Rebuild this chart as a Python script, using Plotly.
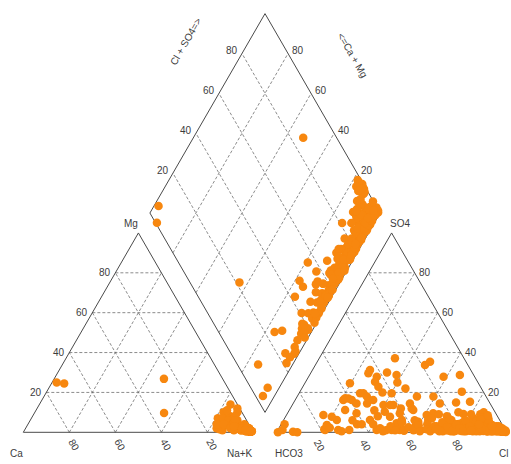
import numpy as np
import plotly.graph_objects as go

# Major-ion composition of each sample, in percent of meq/L.
# Cations: Ca, Mg (Na+K is the remainder).  Anions: SO4, Cl (HCO3 is the remainder).
ca = [
    73, 70, 25.5, 34, 3, 3, 10,
    2, 4, 9, 1, 2, 8, 3, 1.5, 6, 2, 1, 10, 2.5, 5, 1, 3, 12, 4, 2, 6,
    1.5, 3, 2, 4, 1, 5, 2, 3, 8, 2, 4, 1, 3, 6, 2, 1.5, 3, 7, 2, 4,
    1, 5, 2, 3, 6, 2, 1, 4, 3, 2, 5, 1.5, 2, 4, 1, 3, 2, 5, 2, 3, 2, 4,
    1, 2, 3, 2, 6, 1,
    1, 2, 0.5, 3, 1.5, 4, 2, 6, 1, 3, 2, 8, 1.5, 5, 2, 3, 1, 4, 2, 6,
    1, 3, 2, 9, 1, 4, 2, 3, 1, 5, 2, 7, 12, 3, 15, 1, 6, 10, 2, 13,
    4, 1, 7, 2, 1, 3, 5, 1, 2, 1.5, 3, 2, 8, 1, 2, 4, 1, 3, 1.5, 2,
    2, 1, 4, 1, 2, 1, 5, 1.5, 3, 1, 2, 4, 1, 2.5, 1, 6, 1, 2, 1, 3,
    1, 2, 5, 1, 2, 3, 1, 2, 1, 4, 2, 1, 3, 2, 1, 5, 8, 10, 14, 6,
    1, 2, 1, 3, 1, 2, 1, 4, 1, 2,
    1, 3, 1, 2, 1, 5, 1, 2, 1, 3,
    2, 1, 4, 1, 2, 1, 3, 1, 2, 1,
    2, 4, 1, 2, 1, 3, 1, 2, 1, 3,
    1, 12, 2, 0.5, 1, 0.5, 14, 1, 3, 1,
    9, 5, 8, 11, 7, 4, 6, 9, 5, 7,
]
mg = [
    25, 24.5, 26.8, 9.7, 2, 2, 5,
    1, 2, 7, 1, 1.5, 5, 2, 1, 3, 2, 1, 6, 1.5, 3, 0.5, 2, 7, 3, 1, 4,
    1, 2, 1, 2, 1, 3, 1.5, 1, 5, 2, 2, 0.5, 2, 4, 1, 1, 1.5, 4, 1, 3,
    1, 2, 1, 2, 3, 1, 1, 2, 2, 1, 3, 1, 1, 3, 1, 2, 1, 2, 1, 1, 1, 2,
    1, 1, 2, 1, 3, 1,
    0.5, 1, 0.5, 2, 1, 2, 0.5, 3, 1, 1, 2, 4, 1, 2, 1, 3, 0.5, 1, 1, 4,
    1, 1.5, 1, 5, 1, 2, 1, 2, 0.5, 3, 1, 2, 3, 14, 2, 12, 8, 5, 10, 1,
    6, 1, 6, 4, 2, 1, 5, 1, 3, 0.5, 2, 3, 1, 1, 2, 1, 1, 1, 1, 1,
    1, 0.5, 2, 1, 1.5, 0.5, 1, 1, 0.5, 2, 1, 3, 1, 1, 0.5, 2, 1, 2, 1, 2,
    0.5, 1, 1, 1, 0.5, 2, 0.5, 1, 0.5, 2, 1, 1, 1, 2, 0.5, 2, 10, 7, 1.5, 11,
    0.5, 1, 1, 1, 0.5, 1, 1, 2, 0.5, 1,
    1, 1, 0.5, 2, 1, 2, 0.5, 1, 1, 1,
    1, 0.5, 2, 1, 0.5, 1, 2, 0.5, 1, 1,
    1, 2, 0.5, 1, 1, 1, 0.5, 2, 1, 0.5,
    0.5, 3, 1, 0.5, 0.5, 0.5, 4, 0.5, 1, 0.5,
    3, 7, 6, 4, 4, 8, 5, 2, 6, 3,
]
so4 = [
    4, 0, 15, 1.5, 1.2, 0.3, 0,
    1.2, 3.7, 2.3, 1.2, 6.2, 7.8, 16.2, 17, 16.2, 1.2, 9.5, 14.5, 19.6, 19.6, 17.9, 29.6, 31.2, 27.9, 25.4, 22.9,
    14.5, 16.2, 1.2, 6.2, 13.7, 10.3, 7.8, 19.6, 13.7, 37.1, 28.7, 1.2, 4.5, 1.2, 1.2, 14.5, 12, 11.2, 2.8, 1.2,
    33.8, 35.4, 17.9, 9.5, 14.5, 27.9, 5.3, 1.2, 28.7, 20.4, 15.3, 9.2, 9.5, 6.2, 13.7, 8.7, 6.2, 5.3, 8.7, 11.2, 24.6, 17.1,
    0.5, 4, 4, 2, 3, 1,
    0.5, 1, 0.3, 2, 1.5, 3, 0.8, 2.5, 4, 1, 5, 0.5, 6, 2, 8, 3, 9, 1, 4, 7,
    2, 5, 1, 3, 0.5, 2, 4, 1, 6, 2, 1, 3, 0.5, 1, 0.3, 2, 1, 0.5, 1.5, 3,
    0.5, 2, 1, 4, 0.5, 7, 1, 2, 4, 0.5, 10, 1.5, 6, 0.5, 3, 1.5, 5, 0.5, 3.5, 1.5,
    0.5, 0.2, 1, 0.3, 0.8, 1.8, 0.4, 2.2, 0.6, 1.2, 3.5, 0.4, 2.6, 5.5, 0.7, 3.2, 8.5, 1, 5, 0.5,
    7.5, 2.5, 0.8, 4.5, 1.2, 3.8, 0.6, 2.8, 1, 4.2, 0.5, 2, 1, 4.5, 0.5, 2, 0.3, 1, 0.6, 1.5,
    2, 0.5, 3, 1, 5, 0.8, 2.5, 6, 1, 3.5,
    0.5, 4, 1.5, 7, 0.5, 3, 9, 1.5, 5, 0.5,
    8, 2.5, 6.5, 1, 4, 10, 2, 6, 0.5, 3,
    9, 1, 5.5, 2, 6.5, 1, 3, 0.5, 2, 0.3,
    12, 8, 22, 18, 25, 4, 11, 20, 30, 6,
    1, 0.5, 2, 1, 0.5, 3, 1, 2, 4, 1,
]
cl = [
    1.5, 0.6, 70.5, 20, 2, 7, 9,
    20.5, 20, 22, 26.2, 23.1, 20.1, 20.9, 22.7, 24.6, 31, 30, 27.5, 26.5, 27.9, 30.3, 25.1, 25, 29.6, 30.1, 32.8,
    32.1, 33.9, 42.9, 37.5, 39.6, 41.9, 45.4, 40.2, 43.9, 32.9, 37.8, 49.4, 49.9, 53, 54.5, 50.7, 52.7, 53.8, 58.8, 61.7,
    47.6, 49, 59.2, 63.3, 63.7, 58.6, 71.2, 75.5, 65.3, 70.3, 76.4, 76.6, 48.8, 51.3, 42.5, 60.9, 62.8, 58.9, 16, 24.2, 19.6, 21.3,
    28, 33, 35, 66, 68, 47,
    98.5, 97, 99, 96, 95, 94, 93, 92, 91, 90, 89, 88, 87, 86, 86, 85, 84, 84, 83, 82,
    81, 80, 79, 78, 77, 76, 75, 74, 73, 72, 71, 70, 96.5, 97.5, 98, 97, 98, 99, 96, 95,
    94, 93, 92, 90.5, 91, 88.5, 89, 88, 87, 86.5, 85, 83, 82.5, 82, 80.5, 79.5, 78.5, 76.5, 74, 72.5,
    99.3, 99.5, 98.8, 97.8, 96.8, 95.7, 95.5, 94.5, 93.8, 92.5, 92, 91.5, 90, 89.5, 89.5, 88, 87.5, 87, 86, 85,
    85, 84, 83.5, 82, 81.5, 81, 80, 79, 78, 77, 75.5, 74.5, 73.5, 71.5, 70.5, 69, 98.2, 97.2, 96.2, 94.8,
    44, 46, 48, 51, 52, 55, 56, 57, 59, 60,
    62, 63.5, 64.5, 64, 66.5, 67, 66, 68.5, 69.5, 72,
    70, 73, 72, 76, 76, 74, 78.5, 79, 81, 82.5,
    80, 85.5, 84, 87.5, 85.5, 90, 91.5, 93, 95, 97.5,
    48, 40, 45, 52, 40, 40, 37, 36, 33, 30,
    97, 98, 96, 95, 93, 92, 90, 88, 86, 84,
]

tick_values = [20, 40, 60, 80]

ORANGE = "#f7870f"
LINE = "#4a4a4a"
GRID = "#6e6e6e"
TEXT = "#3c3c3c"
FONT = "Liberation Sans, Arial, sans-serif"

H = np.sqrt(3) / 2   # height of a unit equilateral triangle
GAP = 0.1            # gap between the two ternary triangles
AX0 = 1 + GAP        # left corner of the anion triangle
BX, BY = 1 + GAP / 2, GAP * H   # bottom vertex of the diamond

ca_f = np.array(ca) / 100
mg_f = np.array(mg) / 100
so4_f = np.array(so4) / 100
cl_f = np.array(cl) / 100
nak_f = 1 - ca_f - mg_f

# Piper projection
xc = nak_f + mg_f / 2
yc = mg_f * H
xa = AX0 + cl_f + so4_f / 2
ya = so4_f * H
a = ca_f + mg_f      # Ca + Mg
b = cl_f + so4_f     # Cl + SO4
xd = BX - a / 2 + b / 2
yd = BY + (a + b) * H

# ---------------------------------------------------------------- grid lines
gx, gy = [], []


def seg(p, q):
    gx.extend([p[0], q[0], None])
    gy.extend([p[1], q[1], None])


for v in tick_values:
    t = v / 100
    for x0 in (0.0, AX0):
        # horizontal (Mg / SO4)
        seg((x0 + t / 2, t * H), (x0 + 1 - t / 2, t * H))
        # parallel to right side
        seg((x0 + 1 - t, 0), (x0 + (1 - t) / 2, (1 - t) * H))
        # parallel to left side
        seg((x0 + t, 0), (x0 + t + (1 - t) / 2, (1 - t) * H))
    # diamond
    seg((BX - t / 2, BY + t * H), (BX - t / 2 + 0.5, BY + t * H + H))
    seg((BX + t / 2, BY + t * H), (BX + t / 2 - 0.5, BY + t * H + H))

fig = go.Figure()
fig.add_trace(go.Scatter(x=gx, y=gy, mode="lines",
                         line=dict(color=GRID, width=0.8, dash="3px,2px"),
                         hoverinfo="skip", showlegend=False))

# ---------------------------------------------------------------- outlines
L = (BX - 0.5, BY + H)
T = (BX, BY + 2 * H)
R = (BX + 0.5, BY + H)
frames = [
    [(0, 0), (1, 0), (0.5, H), (0, 0)],
    [(AX0, 0), (AX0 + 1, 0), (AX0 + 0.5, H), (AX0, 0)],
    [(BX, BY), L, T, R, (BX, BY)],
]
for poly in frames:
    fig.add_trace(go.Scatter(x=[p[0] for p in poly], y=[p[1] for p in poly],
                             mode="lines", line=dict(color=LINE, width=1),
                             hoverinfo="skip", showlegend=False))

# ---------------------------------------------------------------- samples
marker = dict(color=ORANGE, size=8.5, line=dict(width=0))
for x, y in ((xc, yc), (xa, ya), (xd, yd)):
    fig.add_trace(go.Scatter(x=x, y=y, mode="markers", marker=marker,
                             showlegend=False))

# ---------------------------------------------------------------- labels
ann = []


def label(x, y, text, dx=0, dy=0, xanchor="center", angle=0, size=10):
    ann.append(dict(x=x, y=y, text=text, showarrow=False, xshift=dx, yshift=dy,
                    xanchor=xanchor, yanchor="middle", textangle=angle,
                    font=dict(family=FONT, size=size, color=TEXT)))


for v in tick_values:
    t = v / 100
    s = str(v)
    # cation triangle: Mg on the left side, Ca along the base
    label(t / 2, t * H, s, dx=-2, xanchor="right")
    label(1 - t, 0, s, dx=5, dy=-13, angle=60)
    # anion triangle: SO4 on the right side, Cl along the base
    label(AX0 + 1 - t / 2, t * H, s, dx=2, xanchor="left")
    label(AX0 + t, 0, s, dx=-3, dy=-13, angle=60)
    # diamond: Cl + SO4 on the upper-left side, Ca + Mg on the upper-right side
    label(L[0] + t / 2, L[1] + t * H, s, dx=-2, dy=3, xanchor="right")
    label(R[0] - t / 2, R[1] + t * H, s, dx=2, dy=3, xanchor="left")

label(0.5, H, "Mg", dx=-7, dy=9)
label(AX0 + 0.5, H, "SO4", dx=8, dy=9)
label(0, 0, "Ca", dx=-7, dy=-21)
label(1, 0, "Na+K", dx=-14, dy=-21)
label(AX0, 0, "HCO3", dx=12, dy=-21)
label(AX0 + 1, 0, "Cl", dx=3, dy=-21, xanchor="right")
label(L[0] + 0.157, L[1] + 0.743, "Cl + SO4=>", angle=-60)
label(R[0] - 0.118, R[1] + 0.686, "<=Ca + Mg", angle=60)

fig.update_layout(
    width=511, height=464,
    margin=dict(l=0, r=0, t=0, b=0),
    paper_bgcolor="white", plot_bgcolor="white",
    xaxis=dict(range=[-0.1012, 2.1186], visible=False, fixedrange=True),
    yaxis=dict(range=[-0.1377, 1.8779], visible=False, fixedrange=True),
    annotations=ann,
)

fig.write_html("out.html")
